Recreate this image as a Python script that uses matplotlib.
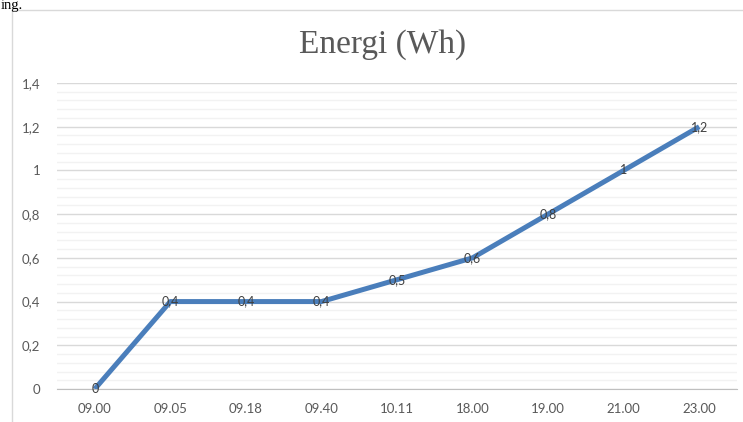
import matplotlib.pyplot as plt
from matplotlib.ticker import MultipleLocator, FuncFormatter
from matplotlib.lines import Line2D

times = ["09.00", "09.05", "09.18", "09.40", "10.11", "18.00", "19.00", "21.00", "23.00"]
energy = [0, 0.4, 0.4, 0.4, 0.5, 0.6, 0.8, 1.0, 1.2]
labels = ["0", "0,4", "0,4", "0,4", "0,5", "0,6", "0,8", "1", "1,2"]

W, H = 743, 422
fig = plt.figure(figsize=(W / 100, H / 100), dpi=100)
fig.patch.set_facecolor("white")

# chart frame (left and top border of the embedded chart)
fig.add_artist(Line2D([12 / W, 12 / W], [0, 1 - 10 / H], color="#D9D9D9", lw=1))
fig.add_artist(Line2D([12 / W, 1], [1 - 10 / H, 1 - 10 / H], color="#D9D9D9", lw=1))
# text of the surrounding document, just above the chart
fig.text(1 / W, 1 - 9 / H, "ing.", fontsize=10.5, family="Liberation Serif", color="black",
         va="baseline")

ax = fig.add_axes([57 / W, 33 / H, 680 / W, 306 / H])
x = list(range(len(times)))
ax.plot(x, energy, color="#4A7EBB", lw=3.6, solid_capstyle="butt", zorder=3)
for xi, yi, lab in zip(x, energy, labels):
    ax.text(xi, yi, lab, ha="center", va="center", fontsize=9, color="#404040",
            family="Lato", zorder=4)

ax.set_xlim(-0.5, len(times) - 0.5)
ax.set_ylim(0, 1.4)
ax.set_xticks(x)
ax.set_xticklabels(times)
ax.yaxis.set_major_locator(MultipleLocator(0.2))
ax.yaxis.set_minor_locator(MultipleLocator(0.04))
ax.yaxis.set_major_formatter(FuncFormatter(lambda v, p: ("%g" % round(v, 1)).replace(".", ",")))
ax.grid(which="major", axis="y", color="#D9D9D9", lw=1)
ax.grid(which="minor", axis="y", color="#F2F2F2", lw=1)
ax.set_axisbelow(True)
for s in ["top", "right", "left"]:
    ax.spines[s].set_visible(False)
ax.spines["bottom"].set_color("#BFBFBF")
ax.tick_params(which="both", length=0)
ax.tick_params(axis="x", pad=10, labelsize=9.5, labelcolor="#595959")
ax.tick_params(axis="y", pad=12, labelsize=9.5, labelcolor="#595959")
for t in ax.get_xticklabels() + ax.get_yticklabels():
    t.set_family("Lato")

fig.text(383 / W, 1 - 45 / H, "Energi (Wh)", ha="center", va="center", fontsize=24,
         family="Liberation Serif", color="#595959")

fig.savefig("out.png", dpi=100)
